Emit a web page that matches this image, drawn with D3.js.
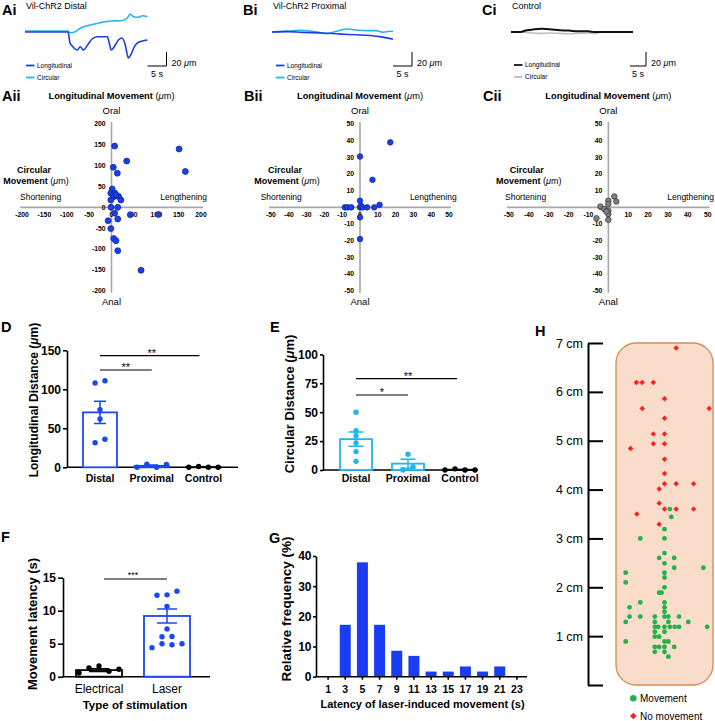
<!DOCTYPE html>
<html><head><meta charset="utf-8">
<script src="https://cdn.jsdelivr.net/npm/d3@7/dist/d3.min.js"></script>
<style>body{margin:0;background:#fff}svg{display:block}</style>
</head><body>
<svg id="c" width="715" height="721"></svg>
<script>
// ================= DATA =================
// Top traces: time (s) and displacement (µm, positive = up)
const aiLongT = [0,11.3,11.8,12.4,13.7,14.5,15.3,16.6,17.6,18.9,21.6,22.1,22.6,23.4,24.5,25.5,26.3,27.1,27.9,28.7,29.5,30.8,32.1];
const aiLongV = [0,0,-15.7,-20,-25.7,-21,-25.7,-17,-10,-6.7,-6.7,-15.7,-25.7,-21,-11.4,-8.6,-18.6,-37,-31,-21,-15.7,-12.9,-11.4];
const aiCircT = [0,11.3,11.8,13,14.5,17.1,19.7,22.4,25,26.8,27.6,28.4,29.7,30.8,32.1];
const aiCircV = [1.4,1.4,-1,0,5.3,10,13.3,15.7,16.1,19.6,25.7,21.9,21,23.3,21.9];
const biLongT = [0,4,8,13.4,18,22,26,29,32];
const biLongV = [0,0.5,-0.5,-1.4,-3,-4,-5,-7,-10.4];
const biCircT = [0,3,5,7.4,10,12,14.5,17,19.8,22,25,27.5,29.5,31,32];
const biCircV = [0,1,1.5,2.4,1.5,0,-2.4,1,4.3,3,2,2,-0.3,1,0.7];
const ciLongT = [0,3,4.5,6,9.6,12,15.3,18,21,24,26.2,28,38];
const ciLongV = [0,0,2,3,4.5,4,2.5,2,1,1,0,0,0];
const ciCircT = [0,3.5,6,9,12,15,18,21,24,26.5,28,38];
const ciCircV = [0,0,-1,-2,-1.5,-2,-2.5,-2,-1.5,-2,0,0];

// Quadrant scatters: circular (x) vs longitudinal (y) movement, µm
const aiiCirc = [7,34,151,165,4,13,1.5,-1.5,7.5,4,16,21,-1.5,-1,14,7,14,-7.5,42,105,-1.5,5,10,14,66,10];
const aiiLong = [147,111,140,86,96,82,44,34,34,25,26,17.5,17.5,0,0,-14,-28,-32,-17.5,-17,-51,-75,-80,-104,-151,30];
const biiCirc = [17,0,7,0,-8.5,-7,-5,0,0.5,1.5,4,8,11,0,0];
const biiLong = [39,30.5,16.5,4,0,0,0,0,1,0,0,0,1.5,-6,-19];
const ciiCirc = [3,4,0,0,-4,-2,0,0,-6,0,-1];
const ciiLong = [6.5,3.5,4,2,0.5,-1,-2,-4,-6.5,-7.5,-2.5];
const quadTicks200 = [-200,-150,-100,-50,0,50,100,150,200];
const quadTicks50 = [-50,-40,-30,-20,-10,0,10,20,30,40,50];

// D: longitudinal distance
const dCats = ["Distal","Proximal","Control"];
const dMean = [70.4, 1.9, 0.25];
const dSem = [14.3, 1.1, 0.25];
const dPoints = [[108,111,74,62,31.5,36],[0,4,0,3.5],[0,1,0,0]];
const dTicks = [0,50,100,150];
// E: circular distance
const eCats = ["Distal","Proximal","Control"];
const eMean = [26.7, 5.5, 0.25];
const eSem = [6.1, 3.9, 0.25];
const ePoints = [[50,34,29.7,23.4,15.9,7.5],[13.6,0,2.9],[0,1,0,0]];
const eTicks = [0,25,50,75,100];
// F: movement latency
const fCats = ["Electrical","Laser"];
const fMean = [1.0, 9.2];
const fSem = [0.2, 1.05];
const fPoints = [[0.56,1.33,1.63,0.82,1.12],[12.35,12.4,12.96,10.66,7.24,6.05,6.1,4.4,5.0,4.85,5.0]];
const fTicks = [0,5,10,15];
// G: latency histogram
const gBins = ["1","3","5","7","9","11","13","15","17","19","21","23"];
const gFreq = [0,17.2,37.9,17.2,8.6,6.9,1.7,1.7,3.4,1.7,3.4,0];
const gTicks = [0,10,20,30,40];
// H: positions (lateral 0-10, distance cm)
const hNoMove = [[2.1,6.19],[2.7,6.19],[3.85,6.19],[5.0,5.86],[2.7,5.66],[9.6,5.66],[5.0,5.46],[3.85,5.14],[5.0,5.14],[3.85,4.94],[5.0,4.94],[1.5,4.84],[5.0,4.62],[5.0,4.33],[5.0,4.12],[6.2,4.12],[8.0,4.12],[4.45,4.01],[4.45,3.72],[5.0,3.6],[6.2,3.6],[8.0,3.6],[2.15,3.5],[4.45,3.29],[6.2,6.9]];
const hMove = [[5.55,3.6],[5.7,3.44],[5.0,3.19],[2.5,3.0],[5.0,3.0],[5.0,2.7],[4.45,2.6],[6.0,2.6],[5.0,2.49],[6.0,2.4],[9.0,2.4],[1.0,2.3],[5.0,2.3],[5.0,2.2],[1.0,2.1],[5.0,2.0],[4.45,1.89],[4.7,1.89],[2.5,1.69],[5.0,1.69],[1.4,1.59],[5.0,1.59],[5.0,1.5],[1.4,1.4],[2.5,1.4],[4.0,1.4],[5.0,1.4],[5.4,1.4],[6.5,1.4],[1.0,1.29],[4.0,1.29],[5.4,1.29],[7.45,1.29],[4.0,1.19],[4.35,1.19],[5.0,1.19],[5.55,1.19],[6.05,1.19],[6.5,1.19],[9.4,1.19],[4.0,1.09],[5.0,1.09],[4.0,0.99],[4.45,0.99],[1.0,0.89],[5.0,0.89],[5.4,0.89],[4.0,0.78],[4.45,0.78],[5.0,0.78],[6.0,0.78],[4.0,0.68],[5.0,0.68],[5.4,0.58]];
const hTicks = [0,1,2,3,4,5,6,7];
const hTickLabels = ["","1 cm","2 cm","3 cm","4 cm","5 cm","6 cm","7 cm"];

// ================= DRAW =================
const FONT = "'Liberation Sans', Arial, Helvetica, sans-serif";
const svg = d3.select("#c").attr("font-family", FONT);
svg.append("rect").attr("width",715).attr("height",721).attr("fill","#fff");
const UM = [{t:"("},{t:"\u03bc",i:true},{t:"m)"}];

function txt(parent, x, y, s, o={}) {
  const t = parent.append("text").attr("x",x).attr("y",y)
    .attr("font-size", o.size||10).attr("font-weight", o.bold?"bold":"normal")
    .attr("text-anchor", o.anchor||"start").attr("fill", o.fill||"#000");
  if (o.rot) t.attr("transform",`rotate(-90,${x},${y})`);
  if (Array.isArray(s)) s.forEach(p => {
    const ts = t.append("tspan").text(p.t);
    if (p.b !== undefined) ts.attr("font-weight", p.b?"bold":"normal");
    if (p.i) ts.attr("font-style","italic");
  });
  else t.text(s);
  return t;
}

// panel letters
[["Ai",2,15],["Bi",243,15],["Ci",482,15],["Aii",2,101],["Bii",244,101],["Cii",483,101],
 ["D",1,332],["E",270,332],["F",1,542],["G",269,543],["H",535,336]]
 .forEach(([s,x,y]) => txt(svg,x,y,s,{size:14.5,bold:true}));

// ---------- traces ----------
const LONG = "#1c3fdc", CIRC = "#2ab4ea";
function tracePanel(p) {
  const x = d3.scaleLinear().domain([0,p.tMax]).range([p.x0,p.x1]);
  const y = d3.scaleLinear().domain([0,20]).range([p.y0,p.y0-14]);
  const line = d3.line().x(d=>x(d[0])).y(d=>y(d[1])).curve(d3.curveMonotoneX);
  p.series.slice().reverse().forEach(s => svg.append("path")
    .attr("d", line(d3.zip(s.t,s.v))).attr("fill","none")
    .attr("stroke", s.color).attr("stroke-width", s.w||1.6).attr("stroke-linejoin","round"));
  txt(svg, p.x0+1, 9, p.title, {size:9});
  const w = x(5)-x(0), h = y(0)-y(20);
  svg.append("path").attr("d",`M${p.barX-w},${p.barY}H${p.barX}V${p.barY-h}`)
    .attr("fill","none").attr("stroke","#000").attr("stroke-width",1);
  txt(svg, p.barX+5, p.barY, [{t:"20 "},{t:"\u03bc",i:true},{t:"m"}], {size:9});
  txt(svg, p.barX-w/2, p.barY+11, "5 s", {size:9, anchor:"middle"});
  p.series.forEach((s,i) => {
    const ly = p.legY + i*12;
    svg.append("line").attr("x1",p.legX).attr("x2",p.legX+8.5).attr("y1",ly).attr("y2",ly)
      .attr("stroke",s.color).attr("stroke-width",1.8);
    txt(svg, p.legX+11, ly+2.2, s.name, {size:6.5});
  });
}
tracePanel({title:"Vil-ChR2 Distal", tMax:32, x0:25, x1:147, y0:32, barX:166.5, barY:66, legX:26, legY:65.5,
  series:[{name:"Longitudinal",t:aiLongT,v:aiLongV,color:LONG},{name:"Circular",t:aiCircT,v:aiCircV,color:CIRC}]});
tracePanel({title:"Vil-ChR2 Proximal", tMax:32, x0:272, x1:393, y0:32, barX:412, barY:66, legX:276, legY:65.5,
  series:[{name:"Longitudinal",t:biLongT,v:biLongV,color:LONG},{name:"Circular",t:biCircT,v:biCircV,color:CIRC}]});
tracePanel({title:"Control", tMax:38, x0:511, x1:633, y0:32, barX:646, barY:66, legX:514, legY:65,
  series:[{name:"Longitudinal",t:ciLongT,v:ciLongV,color:"#111",w:2},{name:"Circular",t:ciCircT,v:ciCircV,color:"#bdbdbd"}]});

// ---------- quadrant scatters ----------
function quadPanel(p) {
  const x = d3.scaleLinear().domain([p.ticks[0], p.ticks[p.ticks.length-1]]).range([p.xl,p.xr]);
  const y = d3.scaleLinear().domain([p.ticks[0], p.ticks[p.ticks.length-1]]).range([290.7,124]);
  const ax = "#a8a8a8";
  svg.append("line").attr("x1",x.range()[0]-2).attr("x2",x.range()[1]+2).attr("y1",y(0)).attr("y2",y(0))
    .attr("stroke",ax).attr("stroke-width",1.6);
  svg.append("line").attr("x1",x(0)).attr("x2",x(0)).attr("y1",y.range()[1]-2).attr("y2",y.range()[0]+2)
    .attr("stroke",ax).attr("stroke-width",1.6);
  p.ticks.forEach(t => {
    txt(svg, x(t), y(0)+10, t, {size:6.8, bold:true, anchor:"middle"});
    txt(svg, x(0)-6, y(t)+2.4, t, {size:6.8, bold:true, anchor:"end"});
  });
  txt(svg, x(0), 99, [{t:"Longitudinal Movement ",b:true},...UM], {size:9.3, anchor:"middle"});
  txt(svg, x(0), 114.3, "Oral", {size:9.5, anchor:"middle"});
  txt(svg, x(0), 305, "Anal", {size:9.5, anchor:"middle"});
  txt(svg, p.circX, 172.5, "Circular", {size:9, bold:true, anchor:"middle"});
  txt(svg, p.circX+2, 183.5, [{t:"Movement ",b:true},...UM], {size:9, anchor:"middle"});
  txt(svg, p.shortX, 199.5, "Shortening", {size:8.5});
  txt(svg, p.lengX, 199.5, "Lengthening", {size:8.5, anchor:"end"});
  svg.append("g").selectAll("circle").data(d3.zip(p.cx,p.cy)).join("circle")
    .attr("cx",d=>x(d[0])).attr("cy",d=>y(d[1])).attr("r",p.r)
    .attr("fill",p.fill).attr("stroke",p.stroke).attr("stroke-width",0.7);
}
quadPanel({ticks:quadTicks200, xl:22, xr:201, cx:aiiCirc, cy:aiiLong, r:3, fill:"#1b3fe6", stroke:"#0c2395", circX:34, shortX:20, lengX:207});
quadPanel({ticks:quadTicks50, xl:271, xr:449, cx:biiCirc, cy:biiLong, r:2.8, fill:"#1b3fe6", stroke:"#0c2395", circX:285, shortX:260.7, lengX:456.7});
quadPanel({ticks:quadTicks50, xl:509, xr:707.7, cx:ciiCirc, cy:ciiLong, r:2.8, fill:"#808080", stroke:"#333", circX:526.7, shortX:505, lengX:714});

// ---------- bar + dot panels ----------
function swarm(vals, py, thr, dx) {
  const idx = d3.range(vals.length).sort((a,b)=>vals[a]-vals[b] || a-b);
  const rows = []; let cur = [idx[0]];
  for (let k=1;k<idx.length;k++) {
    if (Math.abs(py(vals[idx[k]]) - py(vals[idx[k-1]])) < thr) cur.push(idx[k]);
    else { rows.push(cur); cur=[idx[k]]; }
  }
  rows.push(cur);
  const out = [];
  rows.forEach(r => { r.sort((a,b)=>a-b); r.forEach((j,m) => out.push({v:vals[j], off:(m-(r.length-1)/2)*dx})); });
  return out;
}
function styleAxis(a, size, bold, sw) {
  a.attr("font-family",FONT).attr("font-size",size).attr("font-weight",bold?"bold":"normal");
  a.selectAll("path,line").attr("stroke","#000").attr("stroke-width",sw||1.6);
  a.selectAll("text").attr("fill","#000");
}
function barPanel(p) {
  const y = d3.scaleLinear().domain([0,p.ticks[p.ticks.length-1]]).range([p.yBottom,p.yTop]);
  const x = d3.scalePoint().domain(p.cats).range(p.xRange);
  const g = svg.append("g");
  g.append("g").attr("transform",`translate(${p.axisX},0)`)
    .call(d3.axisLeft(y).tickValues(p.ticks).tickSize(p.tick).tickSizeOuter(0).tickPadding(2))
    .call(a => styleAxis(a, 12, true));
  g.append("line").attr("x1",p.axisX).attr("x2",p.axisEnd).attr("y1",y(0)).attr("y2",y(0))
    .attr("stroke","#000").attr("stroke-width",1.6);
  p.cats.forEach((c,i) => {
    const cx = x(c), col = p.colors[i];
    g.append("rect").attr("x",cx-p.barW/2).attr("y",y(p.mean[i])).attr("width",p.barW)
      .attr("height",Math.max(0,y(0)-y(p.mean[i]))).attr("fill","#fff").attr("stroke",col).attr("stroke-width",1.8);
    const lo = y(Math.max(0,p.mean[i]-p.sem[i])), hi = y(p.mean[i]+p.sem[i]);
    g.append("path").attr("d",`M${cx},${lo}V${hi}M${cx-p.cap/2},${hi}H${cx+p.cap/2}M${cx-p.cap/2},${lo}H${cx+p.cap/2}`)
      .attr("stroke",col).attr("stroke-width",1.5).attr("fill","none");
    swarm(p.points[i], y, p.thr, p.dx).forEach(d => g.append("circle")
      .attr("cx",cx+d.off).attr("cy",y(d.v)).attr("r",p.r).attr("fill",col));
    txt(g, cx, p.labelY, c, {size:p.labelSize, bold:p.labelBold, anchor:"middle"});
  });
  p.sig.forEach(s => {
    g.append("line").attr("x1",x(s.a)+(s.da||0)).attr("x2",x(s.b)+(s.db||0)).attr("y1",s.y).attr("y2",s.y)
      .attr("stroke","#000").attr("stroke-width",1.2);
    txt(g, (x(s.a)+x(s.b))/2, s.y+(s.ty||1), s.t, {size:s.size||11, anchor:"middle"});
  });
  txt(g, p.titleX, p.titleY, p.title, {size:p.titleSize, bold:true, anchor:"middle", rot:true});
}
const BLUE = "#1a47f5", LBLUE = "#1fb6ef";
barPanel({cats:dCats, mean:dMean, sem:dSem, points:dPoints, ticks:dTicks, yBottom:467.3, yTop:350.3,
  xRange:[100,203.5], axisX:67, axisEnd:238, tick:4, barW:34, cap:12, r:2.7, thr:6, dx:9.8,
  colors:[BLUE,BLUE,"#000"], labelY:481.5, labelSize:10.5, labelBold:true,
  sig:[{a:"Distal",b:"Control",y:355.7,t:"**",db:-4},{a:"Distal",b:"Proximal",y:370,t:"**"}],
  title:[{t:"Longitudinal Distance "},{t:"("},{t:"\u03bc",i:true},{t:"m)"}], titleX:38, titleY:400, titleSize:12});
barPanel({cats:eCats, mean:eMean, sem:eSem, points:ePoints, ticks:eTicks, yBottom:470, yTop:354.4,
  xRange:[356,460], axisX:323, axisEnd:478, tick:3, barW:32, cap:15, r:2.7, thr:4.5, dx:10,
  colors:[LBLUE,LBLUE,"#000"], labelY:481.5, labelSize:10.5, labelBold:true,
  sig:[{a:"Distal",b:"Control",y:378.7,t:"**",db:-3},{a:"Distal",b:"Proximal",y:395,t:"*"}],
  title:[{t:"Circular Distance "},{t:"("},{t:"\u03bc",i:true},{t:"m)"}], titleX:293.5, titleY:404, titleSize:13});
barPanel({cats:fCats, mean:fMean, sem:fSem, points:fPoints, ticks:fTicks, yBottom:676.7, yTop:577.7,
  xRange:[99,167], axisX:63, axisEnd:210, tick:5, barW:46, cap:20, r:2.7, thr:6, dx:10,
  colors:["#000",BLUE], labelY:693, labelSize:12, labelBold:false,
  sig:[{a:"Electrical",b:"Laser",y:579,t:"***",da:5,size:9,ty:-1.5}],
  title:"Movement latency (s)", titleX:36.5, titleY:624, titleSize:13});
txt(svg, 135, 709, "Type of stimulation", {size:11.5, bold:true, anchor:"middle"});

// ---------- G histogram ----------
{
  const y = d3.scaleLinear().domain([0,40]).range([676.7,556]);
  const x = d3.scaleBand().domain(gBins).range([319.5,525.5]).paddingInner(0.36).paddingOuter(0.18);
  const g = svg.append("g");
  g.selectAll("rect").data(gFreq).join("rect")
    .attr("x",(d,i)=>x(gBins[i])).attr("width",x.bandwidth())
    .attr("y",d=>y(d)).attr("height",d=>y(0)-y(d)).attr("fill","#1a3cf5");
  g.append("g").attr("transform","translate(316,0)")
    .call(d3.axisLeft(y).tickValues(gTicks).tickSize(3).tickSizeOuter(0).tickPadding(1.5))
    .call(a => styleAxis(a, 12, true));
  g.append("g").attr("transform",`translate(0,${y(0)})`)
    .call(d3.axisBottom(x).tickSize(3).tickPadding(6))
    .call(a => { styleAxis(a, 10.5, true); a.select(".domain").remove(); });
  g.append("line").attr("x1",316).attr("x2",527).attr("y1",y(0)).attr("y2",y(0)).attr("stroke","#000").attr("stroke-width",1.6);
  txt(g, 291, 609, "Relative frequency (%)", {size:13.5, bold:true, anchor:"middle", rot:true});
  txt(g, 422.5, 707.5, "Latency of laser-induced movement (s)", {size:11, bold:true, anchor:"middle"});
}

// ---------- H ----------
{
  const y = d3.scaleLinear().domain([0,7]).range([685,343]);
  const x = d3.scaleLinear().domain([0,10]).range([616,713]);
  const g = svg.append("g");
  g.append("rect").attr("x",x(0)).attr("y",y(7)).attr("width",x(10)-x(0)).attr("height",y(0)-y(7))
    .attr("rx",20).attr("ry",20).attr("fill","#f9dcc9").attr("stroke","#d68a52").attr("stroke-width",1.3);
  g.append("g").attr("transform","translate(588,0)")
    .call(d3.axisLeft(y).tickValues(hTicks).tickSizeInner(-15).tickSizeOuter(0).tickPadding(5)
      .tickFormat((d,i)=>hTickLabels[i]))
    .call(a => styleAxis(a, 12.5, false, 2));
  const dia = d3.symbol().type(d3.symbolSquare).size(15);
  g.selectAll("path.nm").data(hNoMove).join("path").attr("class","nm").attr("d",dia)
    .attr("transform",d=>`translate(${x(d[0])},${y(d[1])}) rotate(45)`).attr("fill","#ff1f1f");
  g.selectAll("circle.mv").data(hMove).join("circle").attr("class","mv")
    .attr("cx",d=>x(d[0])).attr("cy",d=>y(d[1])).attr("r",2.4).attr("fill","#1fb34a");
  g.append("circle").attr("cx",633.3).attr("cy",698.3).attr("r",3.3).attr("fill","#1fb34a");
  txt(g, 640, 701.8, "Movement", {size:10});
  g.append("path").attr("d",d3.symbol().type(d3.symbolSquare).size(22)).attr("transform","translate(633.3,716) rotate(45)").attr("fill","#ff1f1f");
  txt(g, 640, 719.5, "No movement", {size:10});
}
</script>
</body></html>
